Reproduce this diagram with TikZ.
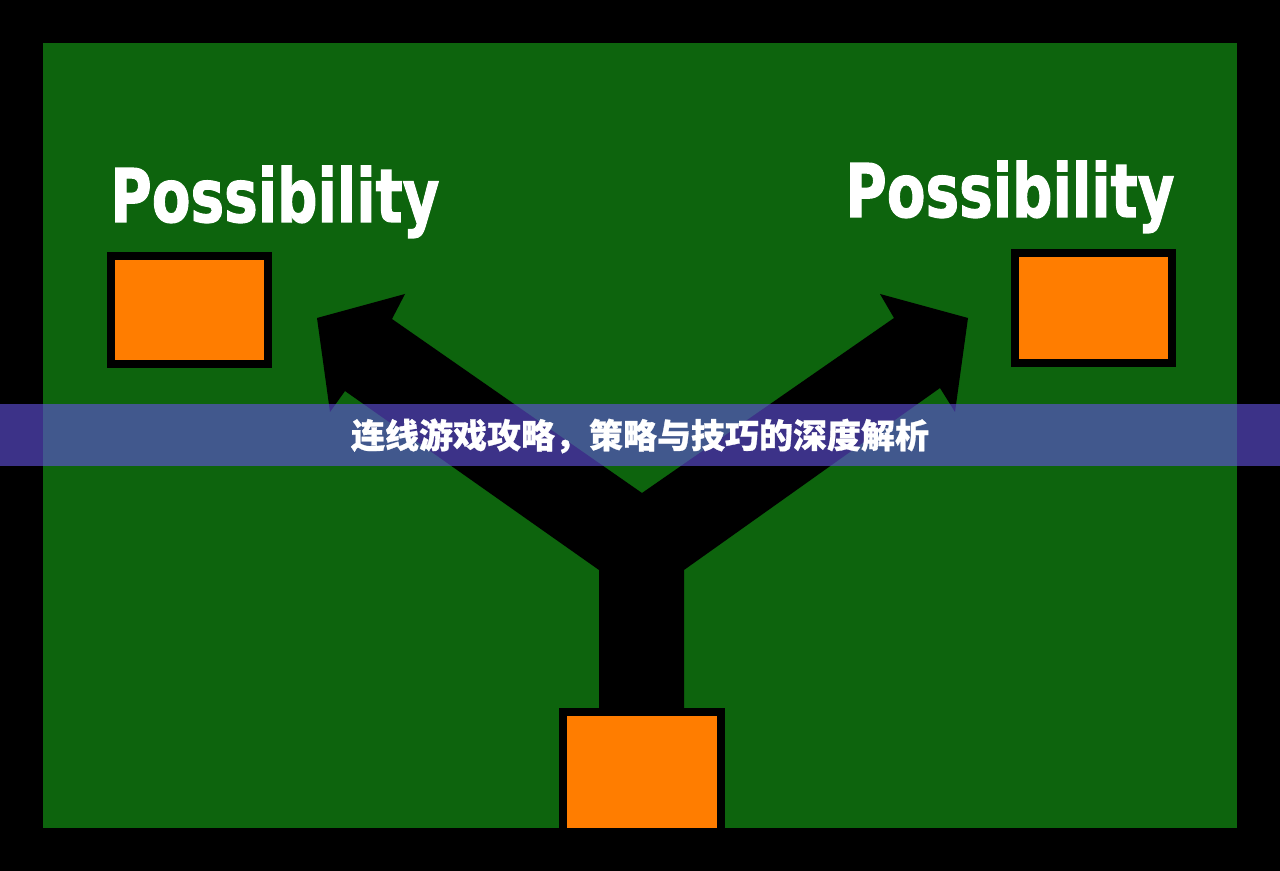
\documentclass[tikz,border=0pt]{standalone}
\usepackage{fontspec}
\newfontfamily\possfont{DejaVu Sans}[BoldFeatures={FakeBold=1.6}]
\newfontfamily\cjkfont{Noto Sans CJK SC}[BoldFeatures={FakeBold=0.8}]
\definecolor{boardgreen}{RGB}{13,100,13}
\definecolor{boxorange}{RGB}{255,125,0}
\definecolor{bannerblue}{RGB}{98,82,220}
\tikzset{
  box/.style={draw=black,line width=4pt,fill=boxorange,inner sep=0pt},
  poss/.style={text=white,inner sep=0pt,anchor=base west,
    font=\possfont\bfseries\fontsize{37}{37}\selectfont},
  banner/.style={text=white,inner sep=0pt,
    font=\cjkfont\bfseries\fontsize{17}{17}\selectfont},
}
\begin{document}
\begin{tikzpicture}[x=0.5pt,y=-0.5pt]
    \fill[black] (0,0) rectangle (1280,871);
    \useasboundingbox (0,0) rectangle (1280,871);
    \fill[boardgreen] (43,43) rectangle (1237,828);
    \fill[black] (599,712) -- (599,570) -- (345,391) -- (330,412) -- (317,318)
      -- (405,294) -- (392,319) -- (642,493) -- (894,318) -- (880,294)
      -- (968,318) -- (955,412) -- (940,388) -- (684,570) -- (684,712) -- cycle;
    \node[box,minimum width=78.5pt,minimum height=54pt] (A0_0) at (189.5,310) {};
    \node[box,minimum width=78.5pt,minimum height=55pt] (A0_2) at (1093.5,308) {};
    \node[box,minimum width=79pt,minimum height=60pt] (A1_1) at (642,772) {};
    \node[poss] (P0_0) at (110,222) {\scalebox{0.763}[1]{Possibility}};
    \node[poss] (P0_2) at (845,217) {\scalebox{0.763}[1]{Possibility}};
    \fill[bannerblue,opacity=0.62] (0,404) rectangle (1280,466);
    \node[banner] (T0_1) at (640,436) {连线游戏攻略，策略与技巧的深度解析};
  \end{tikzpicture}
\end{document}
